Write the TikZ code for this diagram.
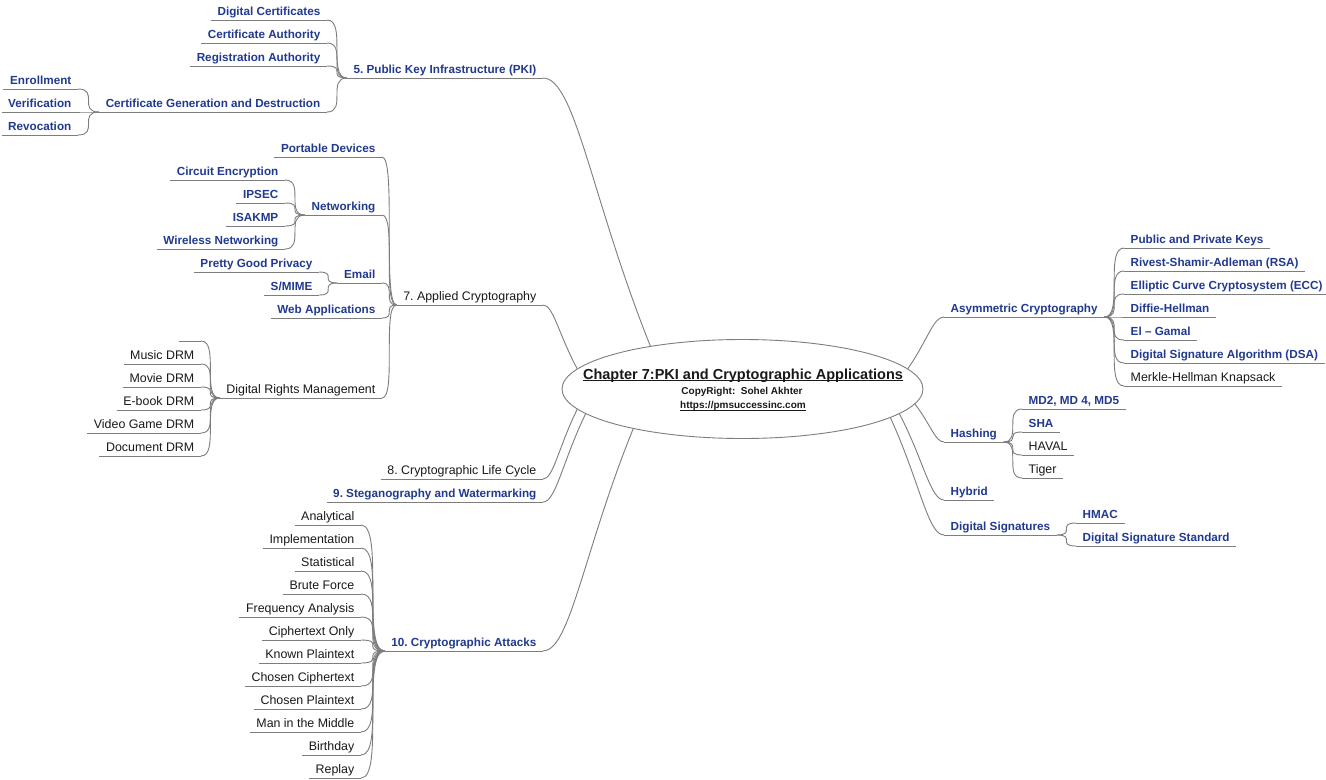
\documentclass[tikz,border=0pt]{standalone}
\usepackage{fontspec}
\setmainfont{Liberation Sans}
\usetikzlibrary{shapes.geometric,calc}
\definecolor{mmblue}{RGB}{33,58,143}
\definecolor{mmtext}{RGB}{25,25,25}
\definecolor{mmline}{RGB}{125,125,125}
\frenchspacing
\tikzset{
  lnk/.style={draw=mmline, line width=0.9bp},
  item/.style={inner xsep=6.5bp, inner ysep=0bp, text height=9bp, text depth=4.5bp,
    font=\fontsize{12.4bp}{14bp}\selectfont, text=mmtext},
  itemb/.style={item, font=\fontsize{11.7bp}{14bp}\selectfont\bfseries, text=mmblue},
  L/.style={anchor=south east},
  R/.style={anchor=south west},
}
% child on the left joined to the left end of its parent's underline
\newcommand\joinL[2]{\draw[lnk] (#1.south east) .. controls (#1.south east -| #2.south west) and (#1.south east |- #2.south west) .. (#2.south west);}
% child on the right joined to the right end of its parent's underline
\newcommand\joinR[2]{\draw[lnk] (#1.south west) .. controls (#1.south west -| #2.south east) and (#1.south west |- #2.south east) .. (#2.south east);}
% main topic joined to the central ellipse
\newcommand\joinE[3]{\draw[lnk] (#1.#2) .. controls ($(#1.#2)!0.3!(#1.#2 -| e.#3)$) and ($(e.#3)!0.55!(#1.#2)$) .. (e.#3);}
\begin{document}
\begin{tikzpicture}[x=1bp,y=-1bp]
\useasboundingbox (0,0) rectangle (1326,779);
\fill[white] (0,0) rectangle (1326,779);

% central topic
\node[draw=mmline, line width=0.9bp, fill=white, ellipse, minimum width=361bp, minimum height=99bp, inner sep=0] (e) at (742.5,389) {};
\node[anchor=base, inner sep=0, text=mmtext, font=\fontsize{14.5bp}{16bp}\selectfont\bfseries] (title) at (743,379) {Chapter 7:PKI and Cryptographic Applications};
\draw[mmtext, line width=1.1bp] ([yshift=-1.8bp]title.base west) -- ([yshift=-1.8bp]title.base east);
\node[anchor=base, inner sep=0, text=mmtext, font=\fontsize{10bp}{12bp}\selectfont\bfseries] (copy) at (742,394) {CopyRight:\ \ Sohel Akhter};
\node[anchor=base, inner sep=0, text=mmtext, font=\fontsize{10bp}{12bp}\selectfont\bfseries] (url) at (743,408.5) {https://pmsuccessinc.com};
\draw[mmtext, line width=0.8bp] ([yshift=-1.5bp]url.base west) -- ([yshift=-1.5bp]url.base east);

% 5. PKI
\node[itemb,L] (pki) at (543,78) {5. Public Key Infrastructure (PKI)};
\node[itemb,L] (dc) at (327,20) {Digital Certificates};
\node[itemb,L] (ca) at (327,43) {Certificate Authority};
\node[itemb,L] (ra) at (327,66) {Registration Authority};
\node[itemb,L] (cg) at (327,112) {Certificate Generation and Destruction};
\node[itemb,L] (enr) at (78,89) {Enrollment};
\node[itemb,L] (ver) at (78,112) {Verification};
\node[itemb,L] (rev) at (78,135) {Revocation};

% 7. Applied Cryptography
\node[item,L] (app) at (543,305) {7. Applied Cryptography};
\node[itemb,L] (pd) at (382,157) {Portable Devices};
\node[itemb,L] (net) at (382,215) {Networking};
\node[itemb,L] (ce) at (285,180) {Circuit Encryption};
\node[itemb,L] (ips) at (285,203) {IPSEC};
\node[itemb,L] (isa) at (285,226) {ISAKMP};
\node[itemb,L] (wn) at (285,249) {Wireless Networking};
\node[itemb,L] (em) at (382,283) {Email};
\node[itemb,L] (pgp) at (319,272) {Pretty Good Privacy};
\node[itemb,L] (smime) at (319,295) {S/MIME};
\node[itemb,L] (web) at (382,318) {Web Applications};
\node[item,L] (drm) at (382,398) {Digital Rights Management};
\node[item,L, minimum width=22bp] (drm0) at (201,341) {};
\node[item,L] (mus) at (201,364) {Music DRM};
\node[item,L] (mov) at (201,387) {Movie DRM};
\node[item,L] (ebk) at (201,410) {E-book DRM};
\node[item,L] (vg) at (201,433) {Video Game DRM};
\node[item,L] (doc) at (201,456) {Document DRM};

% 8, 9, 10
\node[item,L] (lc) at (543,479) {8. Cryptographic Life Cycle};
\node[itemb,L] (steg) at (543,502) {9. Steganography and Watermarking};
\node[itemb,L] (att) at (543,651) {10. Cryptographic Attacks};
\foreach \t [count=\i] in {Analytical, Implementation, Statistical, Brute Force,
  Frequency Analysis, Ciphertext Only, Known Plaintext, Chosen Ciphertext,
  Chosen Plaintext, Man in the Middle, Birthday, Replay}
  \node[item,L] (a\i) at (361,502+23*\i) {\t};

% right side
\node[itemb,R] (asym) at (944,317) {Asymmetric Cryptography};
\node[itemb,R] (ppk) at (1124,248) {Public and Private Keys};
\node[itemb,R] (rsa) at (1124,271) {Rivest-Shamir-Adleman (RSA)};
\node[itemb,R] (ecc) at (1124,294) {Elliptic Curve Cryptosystem (ECC)};
\node[itemb,R] (dh) at (1124,317) {Diffie-Hellman};
\node[itemb,R] (elg) at (1124,340) {El – Gamal};
\node[itemb,R] (dsa) at (1124,363) {Digital Signature Algorithm (DSA)};
\node[item,R] (mh) at (1124,386) {Merkle-Hellman Knapsack};
\node[itemb,R] (hash) at (944,442) {Hashing};
\node[itemb,R] (md) at (1022,409) {MD2, MD 4, MD5};
\node[itemb,R] (sha) at (1022,432) {SHA};
\node[item,R] (hav) at (1022,455) {HAVAL};
\node[item,R] (tig) at (1022,478) {Tiger};
\node[itemb,R] (hyb) at (944,500) {Hybrid};
\node[itemb,R] (dsig) at (944,535) {Digital Signatures};
\node[itemb,R] (hmac) at (1076,523) {HMAC};
\node[itemb,R] (dss) at (1076,546) {Digital Signature Standard};

% underlines
\foreach \n in {pki,dc,ca,ra,cg,enr,ver,rev,app,pd,net,ce,ips,isa,wn,em,pgp,smime,web,
  drm,drm0,mus,mov,ebk,vg,doc,lc,steg,att,a1,a2,a3,a4,a5,a6,a7,a8,a9,a10,a11,a12,
  asym,ppk,rsa,ecc,dh,elg,dsa,mh,hash,md,sha,hav,tig,hyb,dsig,hmac,dss}
  \draw[lnk] (\n.south west) -- (\n.south east);

% branches
\foreach \c in {dc,ca,ra,cg} {\joinL{\c}{pki}}
\foreach \c in {enr,ver,rev} {\joinL{\c}{cg}}
\foreach \c in {pd,net,em,web,drm} {\joinL{\c}{app}}
\foreach \c in {ce,ips,isa,wn} {\joinL{\c}{net}}
\foreach \c in {pgp,smime} {\joinL{\c}{em}}
\foreach \c in {drm0,mus,mov,ebk,vg,doc} {\joinL{\c}{drm}}
\foreach \i in {1,...,12} {\joinL{a\i}{att}}
\foreach \c in {ppk,rsa,ecc,dh,elg,dsa,mh} {\joinR{\c}{asym}}
\foreach \c in {md,sha,hav,tig} {\joinR{\c}{hash}}
\foreach \c in {hmac,dss} {\joinR{\c}{dsig}}

% main topics to the centre
\joinE{pki}{south east}{155}
\joinE{app}{south east}{173}
\joinE{lc}{south east}{187}
\joinE{steg}{south east}{189}
\joinE{att}{south east}{200}
\joinE{asym}{south west}{7}
\joinE{hash}{south west}{355}
\joinE{hyb}{south west}{351}
\joinE{dsig}{south west}{349}
\end{tikzpicture}
\end{document}
